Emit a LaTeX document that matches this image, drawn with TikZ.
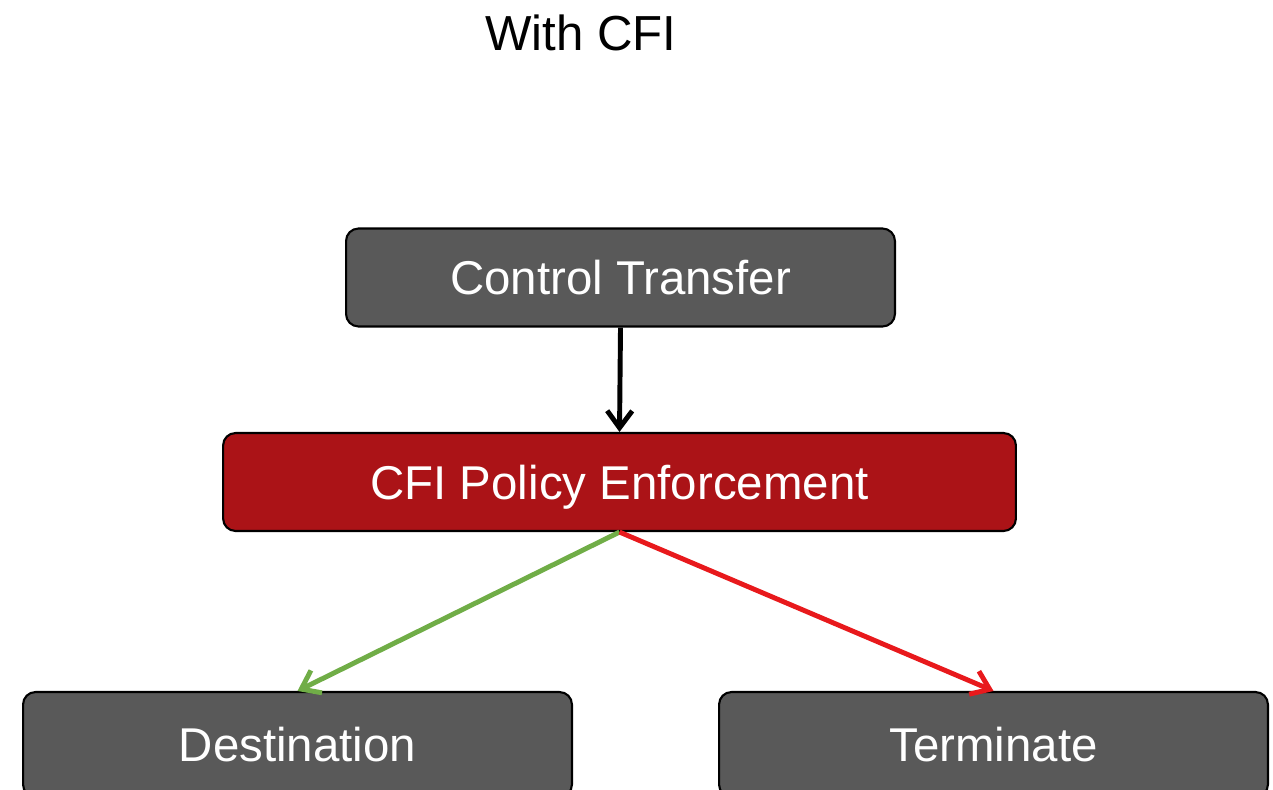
\documentclass[tikz,border=0pt]{standalone}
\usepackage{fontspec}
\setmainfont{Liberation Sans}
\usetikzlibrary{arrows.meta}
\definecolor{boxgray}{HTML}{595959}
\definecolor{cfired}{HTML}{AB1317}
\definecolor{okgreen}{HTML}{70AD47}
\definecolor{badred}{HTML}{E8191C}

\begin{document}
\begin{tikzpicture}
  [x=0.02cm,y=-0.02cm]
      \tikzstyle{box_style} = [draw=black, line width=1.2pt, rounded corners=0.25cm, text=white, minimum width=10.98cm, minimum height=1.96cm, text height=19.5pt, text depth=0pt, font=\fontsize{27}{32}\selectfont]
      \tikzstyle{edge_style} = [line width=2.8pt, -{Straight Barb[length=0.34cm, width=0.5cm]}]
  \clip (0,0) rectangle (1273,790);
  \node[font=\fontsize{28}{34}\selectfont] (title) at (581,33) {With CFI};
  \node[box_style, fill=boxgray] (ct) at (620.5,277.5) {Control Transfer};
  \node[box_style, fill=cfired, minimum width=15.86cm] (cfi) at (619.5,482) {CFI Policy Enforcement};
  \node[box_style, fill=boxgray, minimum height=2.1cm] (dest) at (297.5,744.5) {Destination};
  \node[box_style, fill=boxgray, minimum height=2.1cm] (term) at (993.5,744.5) {Terminate};
  \draw[edge_style, draw=black] (ct.south) -- (cfi.north);
  \draw[edge_style, draw=okgreen] (cfi.south) -- (dest.north);
  \draw[edge_style, draw=badred] (cfi.south) -- (term.north);
\end{tikzpicture}
\end{document}
